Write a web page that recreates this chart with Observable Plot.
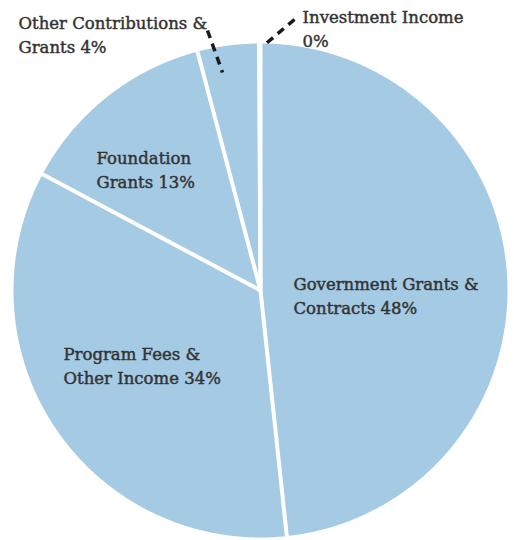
<!DOCTYPE html>
<html>
<head>
<meta charset="utf-8">
<script src="https://cdn.jsdelivr.net/npm/d3@7"></script>
<script src="https://cdn.jsdelivr.net/npm/@observablehq/plot@0.6"></script>
<style>
  html, body { margin: 0; padding: 0; background: #fff; }
  #chart svg { display: block; }
</style>
</head>
<body>
<div id="chart"></div>
<script>
// ---- data ----
const categories = [
  "Government Grants & Contracts",
  "Program Fees & Other Income",
  "Foundation Grants",
  "Other Contributions & Grants",
  "Investment Income"
];
const shares = [48.3, 34.5, 13.1, 4.0, 0.1];          // slice sizes (angle)
const labelText = [
  "Government Grants &\nContracts 48%",
  "Program Fees &\nOther Income 34%",
  "Foundation\nGrants 13%",
  "Other Contributions &\nGrants 4%",
  "Investment Income\n0%"
];

// ---- layout ----
const W = 514, H = 540;
const cx = 260, cy = 290, R = 247;
const labelPos = [[293, 272], [63, 342], [96, 146], [18, 11], [302, 5]];   // top-left of each label block
const leaders = [                                                         // [x1,y1,x2,y2] dashed callouts
  {slice: 3, x1: 207, y1: 30, x2: 222, y2: 72},
  {slice: 4, x1: 294, y1: 19, x2: 262, y2: 46}
];
const pieColor = "#a5cae4";
const textColor = "#333333";

const arcs = d3.pie().sort(null).startAngle(0).endAngle(2 * Math.PI)(shares);
const px = a => cx + R * Math.sin(a);
const py = a => cy - R * Math.cos(a);

// polygon vertices for each slice
const polys = [];
arcs.forEach((arc, i) => {
  polys.push({i, x: cx, y: cy});
  const n = Math.max(2, Math.ceil((arc.endAngle - arc.startAngle) / (Math.PI / 360)));
  for (let k = 0; k <= n; k++) {
    const a = arc.startAngle + (arc.endAngle - arc.startAngle) * k / n;
    polys.push({i, x: px(a), y: py(a)});
  }
});
const boundaries = arcs.map(arc => ({x1: cx, y1: cy, x2: px(arc.startAngle), y2: py(arc.startAngle)}));
const labels = labelText.map((t, i) => ({t, x: labelPos[i][0], y: labelPos[i][1]}));

const chart = Plot.plot({
  width: W, height: H,
  margin: 0,
  x: {domain: [0, W], range: [0, W], axis: null},
  y: {domain: [0, H], range: [0, H], axis: null},
  style: {background: "#fff"},
  marks: [
    Plot.line(polys, {x: "x", y: "y", z: "i", fill: pieColor, stroke: "none"}),
    Plot.link(boundaries, {x1: "x1", y1: "y1", x2: "x2", y2: "y2", stroke: "#fff", strokeWidth: 4}),
    Plot.link(leaders, {x1: "x1", y1: "y1", x2: "x2", y2: "y2", stroke: "#1a1a1a", strokeWidth: 3.5, strokeDasharray: "8,6"}),
    Plot.text(labels, {
      x: "x", y: "y", text: "t",
      textAnchor: "start", lineAnchor: "top", lineHeight: 1.47,
      fontSize: 16.5, fontFamily: "DejaVu Serif", fill: textColor,
      stroke: textColor, strokeWidth: 0.45
    })
  ]
});
document.getElementById("chart").append(chart);
</script>
</body>
</html>
